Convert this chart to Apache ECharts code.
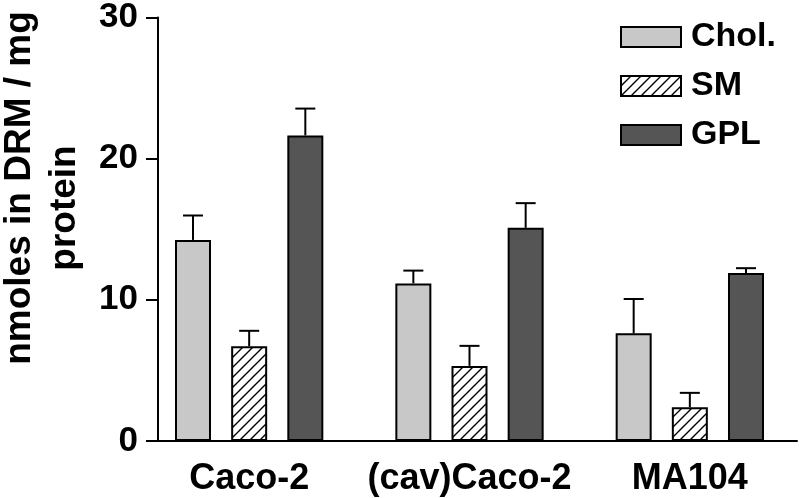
<!DOCTYPE html>
<html><head><meta charset="utf-8">
<script src="https://cdn.jsdelivr.net/npm/echarts@6/dist/echarts.min.js"></script>
<style>html,body{margin:0;padding:0;background:#fff}#c{width:800px;height:498px}</style>
</head><body><div id="c"></div>
<script>
const categories = ['Caco-2', '(cav)Caco-2', 'MA104'];
const seriesNames = ['Chol.', 'SM', 'GPL'];
const cholValues = [14.16, 11.1, 7.58];
const cholErrors = [1.72, 0.9, 2.42];
const smValues = [6.68, 5.29, 2.38];
const smErrors = [1.08, 1.41, 1.01];
const gplValues = [21.52, 15.01, 11.83];
const gplErrors = [1.89, 1.74, 0.34];
const yTicks = [0, 10, 20, 30];

const FONT = '"Liberation Sans", Arial, sans-serif';
const BAR_W = 36, BAR_GAP = 0.56;

function hatch() {
  const c = document.createElement('canvas');
  c.width = 10; c.height = 10;
  const g = c.getContext('2d');
  g.fillStyle = '#fff'; g.fillRect(0, 0, 10, 10);
  g.strokeStyle = '#000'; g.lineWidth = 1.4;
  g.beginPath();
  g.moveTo(-1, 11); g.lineTo(11, -1);
  g.moveTo(-1, 1); g.lineTo(1, -1);
  g.moveTo(9, 11); g.lineTo(11, 9);
  g.stroke();
  return c;
}

const colors = ['#c8c8c8', { image: hatch(), repeat: 'repeat' }, '#555555'];
const values = [cholValues, smValues, gplValues];
const errors = [cholErrors, smErrors, gplErrors];

const chart = echarts.init(document.getElementById('c'), null, { renderer: 'canvas' });

const barSeries = seriesNames.map((n, i) => ({
  name: n, type: 'bar', xAxisIndex: 0, yAxisIndex: 0,
  barWidth: BAR_W, barGap: (BAR_GAP * 100) + '%',
  itemStyle: { color: colors[i], borderColor: '#000', borderWidth: 2 },
  data: values[i], silent: true, z: 2
}));

const errSeries = seriesNames.map((n, i) => ({
  name: n + ' err', type: 'custom', xAxisIndex: 0, yAxisIndex: 0, z: 3, silent: true,
  data: values[i].map((v, k) => [k, v, v + errors[i][k]]),
  renderItem: function (params, api) {
    const off = (i - 1) * BAR_W * (1 + BAR_GAP);
    const p0 = api.coord([api.value(0), api.value(1)]);
    const p1 = api.coord([api.value(0), api.value(2)]);
    const x = p0[0] + off;
    const style = { stroke: '#000', lineWidth: 2 };
    return {
      type: 'group', children: [
        { type: 'line', shape: { x1: x, y1: p0[1], x2: x, y2: p1[1] }, style: style },
        { type: 'line', shape: { x1: x - 10, y1: p1[1], x2: x + 10, y2: p1[1] }, style: style }
      ]
    };
  }
}));

chart.setOption({
  animation: false,
  backgroundColor: '#fff',
  textStyle: { fontFamily: FONT },
  grid: [
    { left: 139, width: 673.5, top: 15, bottom: 57 },
    { left: 158, right: 3, top: 15, bottom: 57 }
  ],
  xAxis: [
    { type: 'category', gridIndex: 0, data: categories,
      axisLine: { show: false }, axisTick: { show: false },
      axisLabel: { interval: 0, fontSize: 36, fontWeight: 'bold', color: '#000', margin: 20, fontFamily: FONT } },
    { type: 'value', gridIndex: 1, min: 0, max: 1,
      axisLine: { show: true, onZero: false, lineStyle: { color: '#000', width: 2 } },
      axisTick: { show: false }, axisLabel: { show: false }, splitLine: { show: false } }
  ],
  yAxis: [
    { type: 'value', gridIndex: 0, min: yTicks[0], max: yTicks[yTicks.length - 1], interval: 10, show: false },
    { type: 'value', gridIndex: 1, min: yTicks[0], max: yTicks[yTicks.length - 1], interval: 10,
      axisLine: { show: true, lineStyle: { color: '#000', width: 2 } },
      axisTick: { show: true, length: 12, lineStyle: { color: '#000', width: 2 } },
      axisLabel: { fontSize: 35, fontWeight: 'bold', color: '#000', margin: 20, fontFamily: FONT },
      splitLine: { show: false } }
  ],
  legend: {
    data: seriesNames, orient: 'vertical', left: 615, top: 15,
    itemWidth: 60, itemHeight: 20, itemGap: 15, icon: 'rect',
    itemStyle: { borderColor: '#000', borderWidth: 2 },
    textStyle: { fontSize: 34, fontWeight: 'bold', color: '#000', fontFamily: FONT, padding: [0, 0, 0, 5] },
    selectedMode: false
  },
  graphic: [
    { type: 'text', x: 20, y: 188, rotation: Math.PI / 2,
      style: { text: 'nmoles in DRM / mg', font: 'bold 37px ' + FONT, fill: '#000', textAlign: 'center', textVerticalAlign: 'middle' } },
    { type: 'text', x: 65, y: 208, rotation: Math.PI / 2,
      style: { text: 'protein', font: 'bold 37px ' + FONT, fill: '#000', textAlign: 'center', textVerticalAlign: 'middle' } }
  ],
  series: barSeries.concat(errSeries)
});
</script></body></html>
